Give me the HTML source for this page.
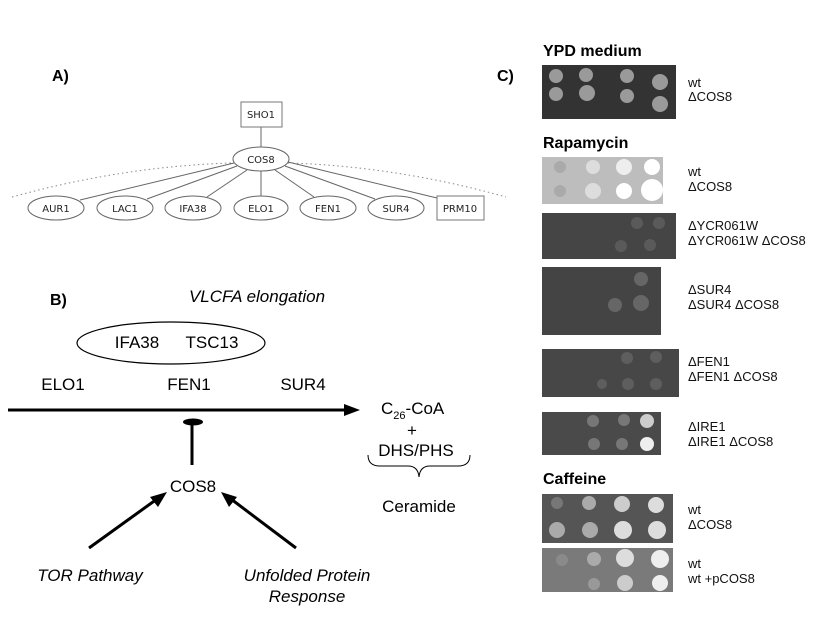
<!DOCTYPE html>
<html><head><meta charset="utf-8"><style>
body{margin:0;background:#fff;}
svg{display:block;font-family:"Liberation Sans",sans-serif;}
</style></head><body>
<svg width="830" height="623" viewBox="0 0 830 623" xmlns="http://www.w3.org/2000/svg">
<!-- Panel A -->
<text x="52" y="81" font-size="16" font-weight="bold">A)</text>
<path d="M12,197 Q261,128 506,197" fill="none" stroke="#888" stroke-width="1" stroke-dasharray="1.5,3"/>
<g stroke="#666" stroke-width="1" fill="none">
<line x1="261" y1="127" x2="261" y2="147"/>
<line x1="234" y1="163" x2="80" y2="200"/>
<line x1="237" y1="166" x2="147" y2="199"/>
<line x1="247" y1="170" x2="207" y2="197"/>
<line x1="261" y1="171" x2="261" y2="196"/>
<line x1="275" y1="170" x2="314" y2="197"/>
<line x1="285" y1="166" x2="375" y2="199"/>
<line x1="288" y1="162" x2="437" y2="198"/>
<rect x="241" y="102" width="41" height="25" stroke="#777"/>
<ellipse cx="261" cy="159" rx="28" ry="12" fill="#fff"/>
<ellipse cx="56" cy="208" rx="28" ry="12"/>
<ellipse cx="125" cy="208" rx="28" ry="12"/>
<ellipse cx="193" cy="208" rx="28" ry="12"/>
<ellipse cx="261" cy="208" rx="27" ry="12"/>
<ellipse cx="328" cy="208" rx="28" ry="12"/>
<ellipse cx="396" cy="208" rx="28" ry="12"/>
<rect x="437" y="196" width="47" height="24" stroke="#777"/>
</g>
<g font-family="DejaVu Sans, sans-serif" font-size="10" text-anchor="middle" fill="#222">
<text x="261" y="118">SHO1</text>
<text x="261" y="163">COS8</text>
<text x="56" y="212">AUR1</text>
<text x="125" y="212">LAC1</text>
<text x="193" y="212">IFA38</text>
<text x="261" y="212">ELO1</text>
<text x="328" y="212">FEN1</text>
<text x="396" y="212">SUR4</text>
<text x="460" y="212">PRM10</text>
</g>
<!-- Panel B -->
<text x="50" y="305" font-size="16" font-weight="bold">B)</text>
<text x="257" y="302" font-size="17" font-style="italic" text-anchor="middle">VLCFA elongation</text>
<ellipse cx="171" cy="343" rx="94" ry="21" fill="none" stroke="#000" stroke-width="1.2"/>
<text x="137" y="348" font-size="17" text-anchor="middle">IFA38</text>
<text x="212" y="348" font-size="17" text-anchor="middle">TSC13</text>
<text x="63" y="390" font-size="17" text-anchor="middle">ELO1</text>
<text x="189" y="390" font-size="17" text-anchor="middle">FEN1</text>
<text x="303" y="390" font-size="17" text-anchor="middle">SUR4</text>
<line x1="8" y1="410" x2="346" y2="410" stroke="#000" stroke-width="3"/>
<polygon points="360,410 344,404 344,416" fill="#000"/>
<line x1="192" y1="423" x2="192" y2="465" stroke="#000" stroke-width="3"/>
<ellipse cx="193" cy="422" rx="10" ry="3.5" fill="#000"/>
<text x="193" y="492" font-size="17" text-anchor="middle">COS8</text>
<line x1="89" y1="548" x2="157" y2="499" stroke="#000" stroke-width="3"/>
<polygon points="167,492 150,497 158,507" fill="#000"/>
<line x1="296" y1="548" x2="231" y2="499" stroke="#000" stroke-width="3"/>
<polygon points="221,492 229,507 237,497" fill="#000"/>
<text x="90" y="581" font-size="17" font-style="italic" text-anchor="middle">TOR Pathway</text>
<text x="307" y="581" font-size="17" font-style="italic" text-anchor="middle">Unfolded Protein</text>
<text x="307" y="602" font-size="17" font-style="italic" text-anchor="middle">Response</text>
<text x="381" y="414" font-size="17">C<tspan font-size="11" dy="5">26</tspan><tspan dy="-5">-CoA</tspan></text>
<text x="412" y="436" font-size="17" text-anchor="middle">+</text>
<text x="416" y="456" font-size="17" text-anchor="middle">DHS/PHS</text>
<path d="M368,455 Q368,466 380,466 L408,466 Q418,466 419,477 Q420,466 430,466 L458,466 Q470,466 470,455" fill="none" stroke="#000" stroke-width="1"/>
<text x="419" y="512" font-size="17" text-anchor="middle">Ceramide</text>
<!-- Panel C -->
<text x="497" y="81" font-size="16" font-weight="bold">C)</text>
<g font-size="16" font-weight="bold">
<text x="543" y="56">YPD medium</text>
<text x="543" y="148">Rapamycin</text>
<text x="543" y="484">Caffeine</text>
</g>
<rect x="542" y="65" width="134" height="54" fill="#333"/>
<g fill="#9a9a9a"><circle cx="556" cy="76" r="7"/><circle cx="586" cy="75" r="7"/><circle cx="627" cy="76" r="7"/><circle cx="660" cy="82" r="8"/>
<circle cx="556" cy="94" r="7"/><circle cx="587" cy="93" r="8"/><circle cx="627" cy="96" r="7"/><circle cx="660" cy="104" r="8"/></g>
<rect x="542" y="157" width="121" height="47" fill="#bdbdbd"/>
<g fill="#eee"><circle cx="560" cy="167" r="6" fill="#aaa"/><circle cx="560" cy="191" r="6" fill="#aaa"/><circle cx="593" cy="167" r="7" fill="#ddd"/><circle cx="624" cy="167" r="8"/><circle cx="652" cy="167" r="8" fill="#fff"/>
<circle cx="593" cy="191" r="8" fill="#ddd"/><circle cx="624" cy="191" r="8" fill="#fff"/><circle cx="652" cy="190" r="11" fill="#fff"/></g>
<rect x="542" y="213" width="134" height="46" fill="#454545"/>
<g fill="#5a5a5a"><circle cx="637" cy="223" r="6"/><circle cx="659" cy="223" r="6"/><circle cx="621" cy="246" r="6"/><circle cx="650" cy="245" r="6"/></g>
<rect x="542" y="267" width="119" height="68" fill="#444"/>
<g fill="#666"><circle cx="641" cy="279" r="7"/><circle cx="615" cy="305" r="7"/><circle cx="641" cy="303" r="8"/></g>
<rect x="542" y="349" width="137" height="48" fill="#474747"/>
<g fill="#5e5e5e"><circle cx="627" cy="358" r="6"/><circle cx="656" cy="357" r="6"/><circle cx="602" cy="384" r="5"/><circle cx="628" cy="384" r="6"/><circle cx="656" cy="384" r="6"/></g>
<rect x="542" y="412" width="119" height="43" fill="#4a4a4a"/>
<g fill="#777"><circle cx="593" cy="421" r="6"/><circle cx="624" cy="420" r="6"/><circle cx="647" cy="421" r="7" fill="#ccc"/><circle cx="594" cy="444" r="6"/><circle cx="622" cy="444" r="6"/><circle cx="647" cy="444" r="7" fill="#eee"/></g>
<rect x="542" y="494" width="131" height="49" fill="#555"/>
<g fill="#aaa"><circle cx="557" cy="503" r="6" fill="#777"/><circle cx="589" cy="503" r="7"/><circle cx="622" cy="504" r="8" fill="#ccc"/><circle cx="656" cy="505" r="8" fill="#ddd"/>
<circle cx="557" cy="530" r="8"/><circle cx="590" cy="530" r="8"/><circle cx="623" cy="530" r="9" fill="#ddd"/><circle cx="657" cy="530" r="9" fill="#ddd"/></g>
<rect x="542" y="548" width="131" height="44" fill="#7a7a7a"/>
<g fill="#bbb"><circle cx="562" cy="560" r="6" fill="#8a8a8a"/><circle cx="594" cy="559" r="7" fill="#aaa"/><circle cx="625" cy="558" r="9" fill="#ddd"/><circle cx="660" cy="559" r="9" fill="#eee"/>
<circle cx="594" cy="584" r="6" fill="#999"/><circle cx="625" cy="583" r="8" fill="#ccc"/><circle cx="660" cy="583" r="8" fill="#eee"/></g>
<g font-size="13" fill="#111">
<text x="688" y="87">wt</text><text x="688" y="101">ΔCOS8</text>
<text x="688" y="176">wt</text><text x="688" y="191">ΔCOS8</text>
<text x="688" y="230">ΔYCR061W</text><text x="688" y="245">ΔYCR061W ΔCOS8</text>
<text x="688" y="294">ΔSUR4</text><text x="688" y="309">ΔSUR4 ΔCOS8</text>
<text x="688" y="366">ΔFEN1</text><text x="688" y="381">ΔFEN1 ΔCOS8</text>
<text x="688" y="431">ΔIRE1</text><text x="688" y="446">ΔIRE1 ΔCOS8</text>
<text x="688" y="514">wt</text><text x="688" y="529">ΔCOS8</text>
<text x="688" y="568">wt</text><text x="688" y="583">wt +pCOS8</text>
</g>
</svg>
</body></html>
